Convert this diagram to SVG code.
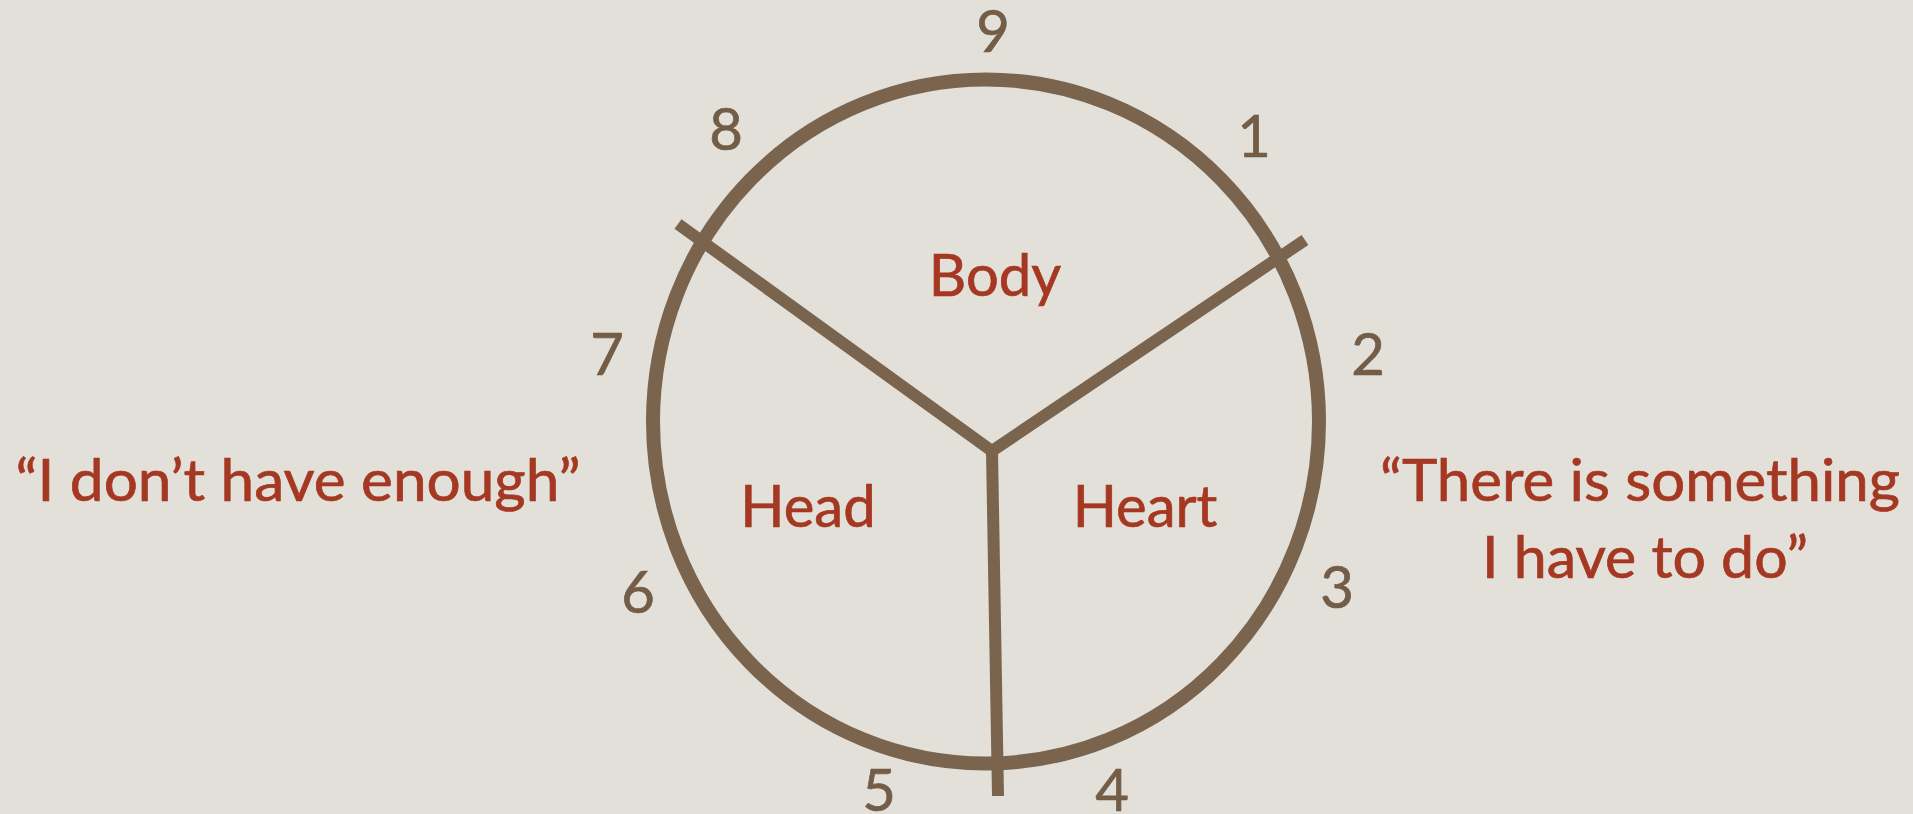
<svg xmlns="http://www.w3.org/2000/svg" width="1913" height="814" viewBox="0 0 1913 814">
<style>
.bg{fill:#e3e0d9}
.ring{fill:none;stroke:#7a644e;stroke-width:14}
.div{fill:none;stroke:#7a644e;stroke-width:12;stroke-linejoin:miter}
.num{font-family:Lato,"Open Sans",sans-serif;font-size:58px;fill:#735d47;stroke:#735d47;stroke-width:0.7;text-anchor:middle}
.lbl{font-family:Lato,"Open Sans",sans-serif;font-size:58px;fill:#a53822;stroke:#a53822;stroke-width:0.7;text-anchor:middle}
</style>
<rect class="bg" x="0" y="0" width="1913" height="814"/>
<g id="connectors">
<path class="div" d="M678,224 L992,451 L1305,240"/>
<path class="div" d="M992,451 L998,796"/>
</g>
<g id="ring"><ellipse class="ring" cx="986" cy="421.5" rx="333" ry="342"/></g>
<g id="body"><text class="lbl" x="995" y="296">Body</text></g>
<g id="head"><text class="lbl" x="808" y="527">Head</text></g>
<g id="heart"><text class="lbl" x="1145" y="527">Heart</text></g>
<g id="quote-left"><text class="lbl" x="298" y="501" textLength="565" lengthAdjust="spacingAndGlyphs">“I don’t have enough”</text></g>
<g id="quote-right"><text class="lbl" x="1640" y="501" textLength="520" lengthAdjust="spacingAndGlyphs">“There is something</text><text class="lbl" x="1645" y="578" textLength="326" lengthAdjust="spacingAndGlyphs">I have to do”</text></g>
<g id="numbers">
<text class="num" x="993" y="52">9</text>
<text class="num" x="726" y="150">8</text>
<text class="num" x="1254" y="157">1</text>
<text class="num" x="607" y="375">7</text>
<text class="num" x="1368" y="375">2</text>
<text class="num" x="638" y="613">6</text>
<text class="num" x="1337" y="608">3</text>
<text class="num" x="879" y="811">5</text>
<text class="num" x="1112" y="811">4</text>
</g>
</svg>
